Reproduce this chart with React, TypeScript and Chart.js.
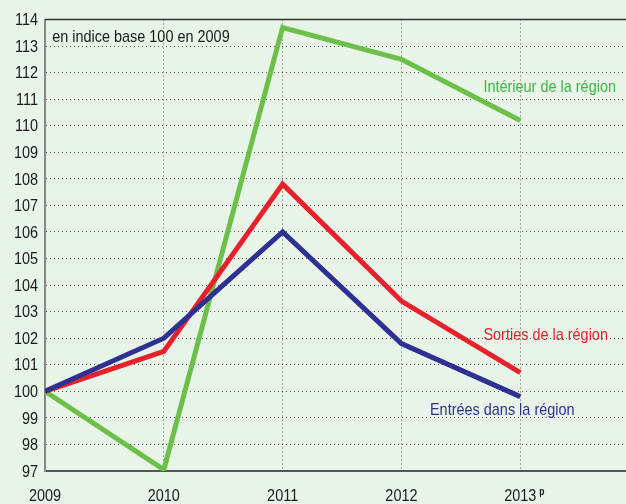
import React, { useEffect, useRef } from "react";
import { Chart, registerables } from "chart.js";

Chart.register(...registerables);

const years = [2009, 2010, 2011, 2012, 2013];
const yearLabels = ["2009", "2010", "2011", "2012", "2013"];
const yTicks = [97, 98, 99, 100, 101, 102, 103, 104, 105, 106, 107, 108, 109, 110, 111, 112, 113, 114];
const interieur = [100, 97.05, 113.7, 112.5, 110.2];
const sorties = [100, 101.5, 107.8, 103.4, 100.7];
const entrees = [100, 102, 106, 101.8, 99.8];

const FONT = "'Liberation Sans', Arial, sans-serif";
const CONDENSE = 0.85;

const annotations = [
  { text: "Intérieur de la région", x: 2012.69, y: 111.46, color: "#3db54a", size: 17 },
  { text: "Sorties de la région", x: 2012.69, y: 102.11, color: "#e5202e", size: 17 },
  { text: "Entrées dans la région", x: 2012.24, y: 99.29, color: "#2e3192", size: 17 },
  { text: "en indice base 100 en 2009", x: 2009.06, y: 113.33, color: "#1a1a1a", size: 17 },
];

function condensedText(ctx: any, text: string, x: number, y: number, align: "left" | "right" | "center") {
  const w = ctx.measureText(text).width * CONDENSE;
  let left = x;
  if (align === "right") left = x - w;
  if (align === "center") left = x - w / 2;
  ctx.save();
  ctx.translate(left, y);
  ctx.scale(CONDENSE, 1);
  ctx.textAlign = "left";
  ctx.fillText(text, 0, 0);
  ctx.restore();
  return { left, right: left + w };
}

const overlay = {
  id: "overlay",
  afterDraw(chart: any) {
    const { ctx, chartArea, scales } = chart;
    const xs = scales.x;
    const ys = scales.y;
    ctx.save();
    // top frame line
    ctx.strokeStyle = "#333";
    ctx.lineWidth = 1.5;
    ctx.beginPath();
    ctx.moveTo(chartArea.left, chartArea.top);
    ctx.lineTo(chartArea.right, chartArea.top);
    ctx.stroke();
    ctx.textBaseline = "middle";
    // y tick labels
    ctx.font = `17px ${FONT}`;
    ctx.fillStyle = "#1a1a1a";
    for (const v of yTicks) {
      condensedText(ctx, String(v), chartArea.left - 7, ys.getPixelForValue(v) + 1, "right");
    }
    // x tick labels
    years.forEach((v, i) => {
      ctx.font = `17px ${FONT}`;
      ctx.fillStyle = "#1a1a1a";
      const r = condensedText(ctx, yearLabels[i], xs.getPixelForValue(v), chartArea.bottom + 25, "center");
      if (i === years.length - 1) {
        ctx.font = `bold 10px ${FONT}`;
        condensedText(ctx, "p", r.right + 3, chartArea.bottom + 21, "left");
      }
    });
    // annotations
    for (const a of annotations) {
      ctx.font = `${a.size}px ${FONT}`;
      ctx.fillStyle = a.color;
      condensedText(ctx, a.text, xs.getPixelForValue(a.x), ys.getPixelForValue(a.y), "left");
    }
    ctx.restore();
  },
};

export default function App() {
  const ref = useRef<HTMLCanvasElement | null>(null);
  useEffect(() => {
    document.body.style.margin = "0";
    const canvas = ref.current!;
    const chart = new Chart(canvas, {
      type: "line",
      data: {
        datasets: [
          {
            label: "Entrées dans la région",
            data: years.map((x, i) => ({ x, y: entrees[i] })),
            borderColor: "#2e3192",
            borderWidth: 5,
          },
          {
            label: "Sorties de la région",
            data: years.map((x, i) => ({ x, y: sorties[i] })),
            borderColor: "#e8202b",
            borderWidth: 5,
          },
          {
            label: "Intérieur de la région",
            data: years.map((x, i) => ({ x, y: interieur[i] })),
            borderColor: "#6cc04a",
            borderWidth: 5,
          },
        ],
      },
      options: {
        animation: false,
        responsive: false,
        maintainAspectRatio: false,
        devicePixelRatio: 1,
        layout: { padding: { top: 19.5, left: 0, right: 0, bottom: 0 } },
        elements: {
          point: { radius: 0 },
          line: { tension: 0, borderJoinStyle: "miter", borderCapStyle: "butt" },
        },
        plugins: {
          legend: { display: false },
          tooltip: { enabled: false },
          title: { display: false },
        },
        scales: {
          x: {
            type: "linear",
            min: 2009,
            max: 2013.89,
            afterBuildTicks: (scale: any) => {
              scale.ticks = years.map((v) => ({ value: v }));
            },
            afterFit: (scale: any) => {
              scale.height = 33;
            },
            ticks: { display: false },
            grid: {
              color: "#555",
              lineWidth: 1,
              drawTicks: false,
            },
            border: { display: true, color: "#555", width: 2, dash: [1, 3] },
          },
          y: {
            min: 97,
            max: 114,
            afterBuildTicks: (scale: any) => {
              scale.ticks = yTicks.map((v) => ({ value: v }));
            },
            afterFit: (scale: any) => {
              scale.width = 45;
            },
            ticks: { display: false },
            grid: {
              color: "#555",
              lineWidth: 1,
              drawTicks: false,
            },
            border: { display: true, color: "#888", width: 2, dash: [1, 3] },
          },
        },
      } as any,
      plugins: [overlay],
    });
    return () => chart.destroy();
  }, []);
  return (
    <div style={{ position: "absolute", left: 0, top: 0, width: 626, height: 504, background: "#e8f4e8" }}>
      <canvas ref={ref} width={626} height={504} style={{ width: 626, height: 504, display: "block" }} />
    </div>
  );
}
